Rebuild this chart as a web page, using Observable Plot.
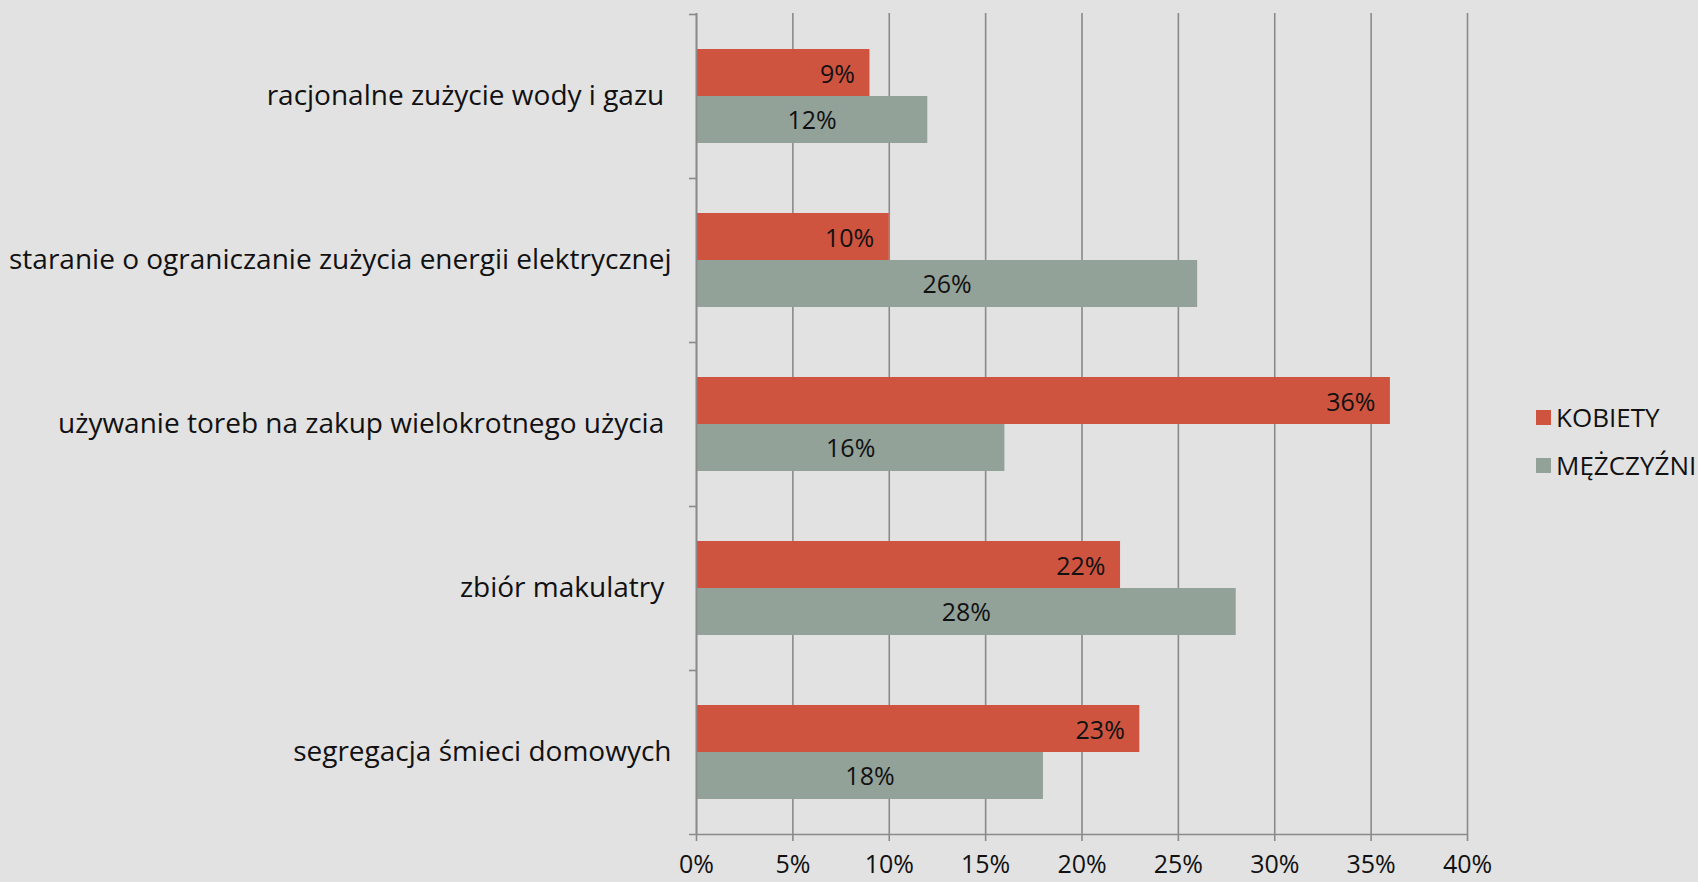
<!DOCTYPE html>
<html>
<head>
<meta charset="utf-8">
<script src="https://cdn.jsdelivr.net/npm/d3@7"></script>
<script src="https://cdn.jsdelivr.net/npm/@observablehq/plot@0.6"></script>
<style>
  html, body { margin: 0; padding: 0; background: #e2e2e2; overflow: hidden; }
  #wrap { position: relative; width: 1698px; height: 882px; font-family: "Open Sans", sans-serif; color: #111; }
  #legend { position: absolute; left: 1536px; top: 393px; font-size: 26px; line-height: 48px; }
  #legend .item { display: flex; align-items: center; height: 48px; }
  #legend .sw { width: 15px; height: 15px; margin-right: 5px; }
</style>
</head>
<body>
<div id="wrap"><div id="legend"></div></div>
<script>
const categories = [
  "racjonalne zużycie wody i gazu\u00a0",
  "staranie o ograniczanie zużycia energii elektrycznej",
  "używanie toreb na zakup wielokrotnego użycia\u00a0",
  "zbiór makulatry\u00a0",
  "segregacja śmieci domowych"
];
const kobiety = [9, 10, 36, 22, 23];
const mezczyzni = [12, 26, 16, 28, 18];
const seriesNames = ["KOBIETY", "MĘŻCZYŹNI"];
const seriesColors = ["#cf5440", "#93a299"];
const xTicks = [0, 5, 10, 15, 20, 25, 30, 35, 40];

const rowsK = categories.map((c, i) => ({category: c, value: kobiety[i]}));
const rowsM = categories.map((c, i) => ({category: c, value: mezczyzni[i]}));

const gridColor = "#8a8a8a";
const chart = Plot.plot({
  width: 1698,
  height: 882,
  marginLeft: 696,
  marginRight: 231,
  marginTop: 13,
  marginBottom: 48,
  style: {background: "transparent", fontFamily: "Open Sans, sans-serif", fontSize: "24px", color: "#111"},
  x: {domain: [0, 40], ticks: xTicks, tickFormat: d => d + "%"},
  y: {domain: categories, padding: 0},
  marks: [
    Plot.gridX(xTicks, {stroke: gridColor, strokeOpacity: 1, strokeWidth: 1.6}),
    Plot.barX(rowsK, {x: "value", y: "category", fill: seriesColors[0], insetTop: 35, insetBottom: 82}),
    Plot.barX(rowsM, {x: "value", y: "category", fill: seriesColors[1], insetTop: 82, insetBottom: 35}),
    Plot.ruleX([0], {stroke: gridColor, strokeWidth: 1.6}),
    Plot.ruleY([categories[categories.length - 1]], {x1: 0, x2: 40, dy: 82, insetLeft: -7, stroke: gridColor, strokeWidth: 1.6}),
    Plot.axisX({ticks: xTicks, tickFormat: d => d + "%", tickSize: 7, tickPadding: 14, stroke: gridColor, strokeWidth: 1.6, fontSize: 25, label: null}),
    Plot.axisY({tickSize: 0, tickPadding: 25, fontSize: 28, label: null}),
    Plot.axisY({tickSize: 7, tickFormat: () => "", dy: -82, stroke: gridColor, strokeWidth: 1.6, label: null}),
    Plot.text(rowsK, {x: "value", y: "category", text: d => d.value + "%", textAnchor: "end", dx: -15, dy: -22, fontSize: 25, fill: "#111"}),
    Plot.text(rowsM, {x: d => d.value / 2, y: "category", text: d => d.value + "%", textAnchor: "middle", dy: 24, fontSize: 25, fill: "#111"})
  ]
});
document.getElementById("wrap").prepend(chart);

const legend = document.getElementById("legend");
seriesNames.forEach((name, i) => {
  const item = document.createElement("div");
  item.className = "item";
  const sw = document.createElement("span");
  sw.className = "sw";
  sw.style.background = seriesColors[i];
  const label = document.createElement("span");
  label.textContent = name;
  item.append(sw, label);
  legend.append(item);
});
</script>
</body>
</html>
